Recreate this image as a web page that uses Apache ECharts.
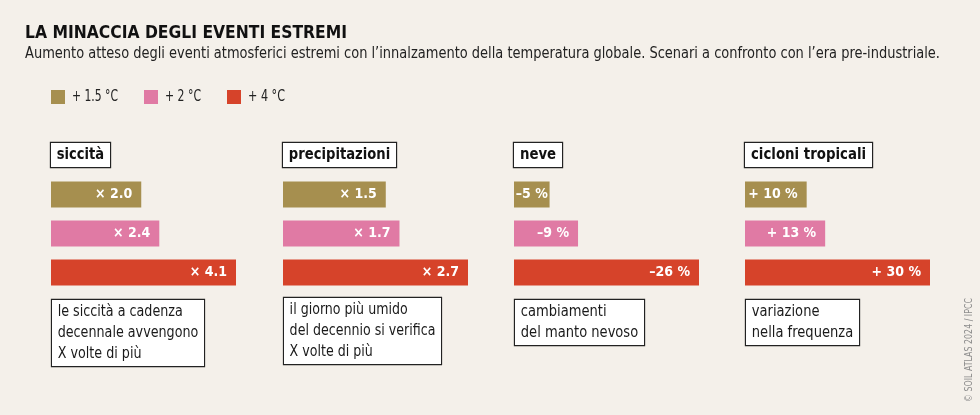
<!DOCTYPE html>
<html><head><meta charset="utf-8">
<script src="https://cdn.jsdelivr.net/npm/echarts@6/dist/echarts.min.js"></script>
<style>html,body{margin:0;padding:0;background:#f4f0ea;}#c{width:980px;height:415px;}</style>
</head><body><div id="c"></div>
<script>
const title = 'LA MINACCIA DEGLI EVENTI ESTREMI';
const subtitle = 'Aumento atteso degli eventi atmosferici estremi con l\u2019innalzamento della temperatura globale. Scenari a confronto con l\u2019era pre-industriale.';
const source = '\u00A9 SOIL ATLAS 2024 / IPCC';
const scenarios = ['+ 1.5 \u00B0C', '+ 2 \u00B0C', '+ 4 \u00B0C'];
const colors = ['#a68f4f', '#e07aa4', '#d6432a'];
const panels = ['siccit\u00E0', 'precipitazioni', 'neve', 'cicloni tropicali'];
const siccita = [2.0, 2.4, 4.1];
const precipitazioni = [1.5, 1.7, 2.7];
const neve = [-5, -9, -26];
const cicloni = [10, 13, 30];
const notes = [
  'le siccit\u00E0 a cadenza\ndecennale avvengono\nX volte di pi\u00F9',
  'il giorno pi\u00F9 umido\ndel decennio si verifica\nX volte di pi\u00F9',
  'cambiamenti\ndel manto nevoso',
  'variazione\nnella frequenza'
];
const values = [siccita, precipitazioni, neve, cicloni];
const fmts = [
  v => '\u00D7 ' + v.toFixed(1),
  v => '\u00D7 ' + v.toFixed(1),
  v => '\u2013' + Math.abs(v) + ' %',
  v => '+ ' + v + ' %'
];

const FONT = '"DejaVu Sans Condensed","Noto Sans",sans-serif';
const ctx = document.createElement('canvas').getContext('2d');
function tw(text, font) {
  ctx.font = font;
  return Math.max.apply(null, text.split('\n').map(l => ctx.measureText(l).width));
}
// horizontal squeeze to emulate the condensed typeface of the original
function fitScale(text, font, target, pad) {
  return target / (tw(text, font) + (pad || 0));
}

const lefts = [51, 283, 514, 745];
const gridW = 185;
const headW = [59, 113, 48, 127];
const noteW = [152, 157, 129, 113];
const noteTop = [300, 298, 300, 300];

const grids = [], xAxes = [], yAxes = [], series = [], graphic = [];
panels.forEach((p, i) => {
  grids.push({left: lefts[i], top: 175, width: gridW, height: 117});
  const neg = values[i][0] < 0;
  const maxAbs = Math.max.apply(null, values[i].map(Math.abs));
  xAxes.push({type: 'value', gridIndex: i, min: neg ? 'dataMin' : 0, max: neg ? 0 : 'dataMax', inverse: neg,
    show: false, splitLine: {show: false}});
  yAxes.push({type: 'category', gridIndex: i, data: scenarios, inverse: true, show: false});
  series.push({
    type: 'bar', xAxisIndex: i, yAxisIndex: i, barWidth: 26, silent: true,
    data: values[i].map((v, k) => {
      const d = {value: v, itemStyle: {color: colors[k]}};
      if (Math.abs(v) / maxAbs < 0.25) d.label = {position: 'inside'};
      return d;
    }),
    label: {show: true, position: 'insideRight', distance: 9, color: '#fff', fontFamily: FONT,
      fontWeight: 'bold', fontSize: 14, formatter: pp => fmts[i](pp.value)}
  });
  const hf = 'bold 15px ' + FONT;
  graphic.push({type: 'text', x: lefts[i], y: 143, scaleX: fitScale(p, hf, headW[i], 12), style: {
    text: p, font: hf, fill: '#111', backgroundColor: '#fff', textAlign: 'left', textVerticalAlign: 'top',
    lineHeight: 16, borderColor: '#222', borderWidth: 1.2, padding: [4, 6, 4, 6]}});
  const nf = '15px ' + FONT;
  graphic.push({type: 'text', x: lefts[i] + 1, y: noteTop[i], scaleX: fitScale(notes[i], nf, noteW[i], 12), style: {
    text: notes[i], font: nf, fill: '#1a1a1a', lineHeight: 21, backgroundColor: '#fff', textAlign: 'left', textVerticalAlign: 'top',
    borderColor: '#222', borderWidth: 1.2, padding: [2, 6, 1, 6]}});
});

const titleFont = 'bold 18px ' + FONT;
const subFont = '15px ' + FONT;
graphic.push({type: 'text', x: 25, y: 24, scaleX: fitScale(title, titleFont, 322), style: {text: title, font: titleFont, fill: '#111', textVerticalAlign: 'top'}});
graphic.push({type: 'text', x: 25, y: 47, scaleX: fitScale(subtitle, subFont, 915), style: {text: subtitle, font: subFont, fill: '#222', textVerticalAlign: 'top'}});
const legX = [51, 144, 227];
const legW = [46, 36, 37];
scenarios.forEach((s, k) => {
  const lf = '15px ' + FONT;
  graphic.push({type: 'rect', shape: {x: legX[k], y: 90, width: 14, height: 14}, style: {fill: colors[k]}});
  graphic.push({type: 'text', x: legX[k] + 21, y: 97, scaleX: fitScale(s, lf, legW[k]), style: {text: s, font: lf, fill: '#222', textVerticalAlign: 'middle'}});
});
const sf = '11px ' + FONT;
graphic.push({type: 'text', x: 969, y: 402, rotation: Math.PI / 2, scaleX: fitScale(source, sf, 104),
  style: {text: source, font: sf, fill: '#8c8c8c', textVerticalAlign: 'middle'}});

const chart = echarts.init(document.getElementById('c'), null, {renderer: 'canvas'});
chart.setOption({
  backgroundColor: '#f4f0ea', animation: false,
  grid: grids, xAxis: xAxes, yAxis: yAxes, series: series, graphic: graphic
});
</script></body></html>
